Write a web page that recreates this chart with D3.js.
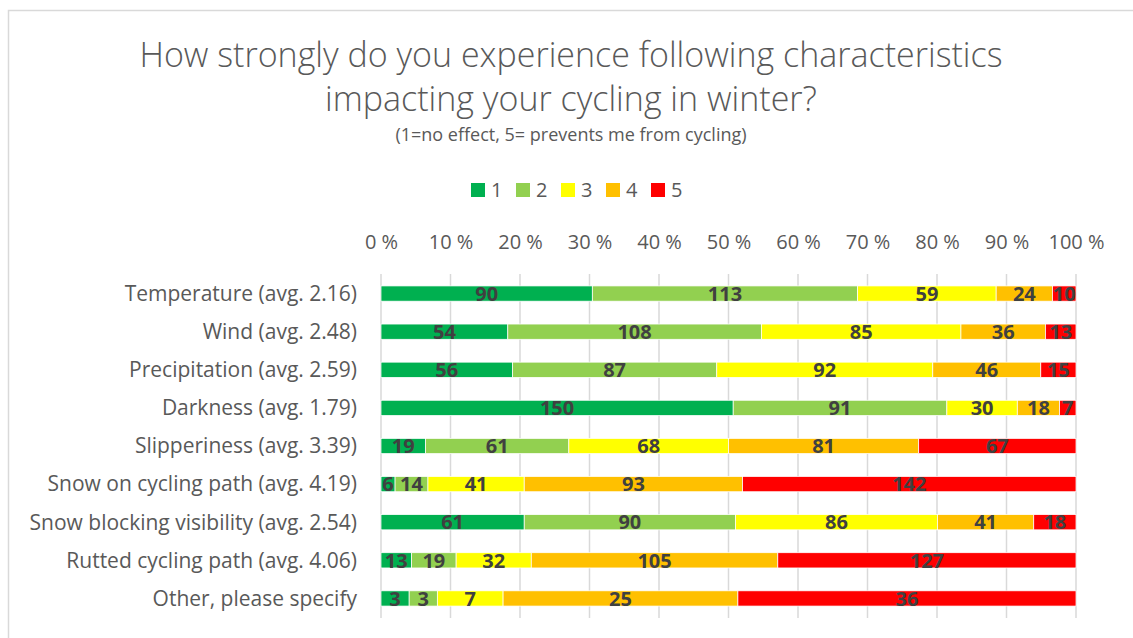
<!DOCTYPE html>
<html>
<head>
<meta charset="utf-8">
<script src="https://cdn.jsdelivr.net/npm/d3@7"></script>
<style>
  html, body { margin: 0; padding: 0; background: #fff; }
  svg { display: block; font-family: "Open Sans", "Liberation Sans", sans-serif; }
</style>
</head>
<body>
<svg id="chart" width="1133" height="638"></svg>
<script>
// Survey categories (rows, top to bottom)
const categories = [
  "Temperature (avg. 2.16)",
  "Wind (avg. 2.48)",
  "Precipitation (avg. 2.59)",
  "Darkness (avg. 1.79)",
  "Slipperiness (avg. 3.39)",
  "Snow on cycling path (avg. 4.19)",
  "Snow blocking visibility (avg. 2.54)",
  "Rutted cycling path (avg. 4.06)",
  "Other, please specify"
];

// Rating scale 1..5 and the response counts per rating
const ratings = ["1", "2", "3", "4", "5"];
const rating1 = [90, 54, 56, 150, 19, 6, 61, 13, 3];
const rating2 = [113, 108, 87, 91, 61, 14, 90, 19, 3];
const rating3 = [59, 85, 92, 30, 68, 41, 86, 32, 7];
const rating4 = [24, 36, 46, 18, 81, 93, 41, 105, 25];
const rating5 = [10, 13, 15, 7, 67, 142, 18, 127, 36];
const ratingColors = ["#00B050", "#92D050", "#FFFF00", "#FFC000", "#FF0000"];

// Axis ticks (share of responses)
const tickValues = [0, 0.1, 0.2, 0.3, 0.4, 0.5, 0.6, 0.7, 0.8, 0.9, 1];

const titleLines = [
  "How strongly do you experience following characteristics",
  "impacting your cycling in winter?"
];
const subtitle = "(1=no effect, 5= prevents me from cycling)";

// Build row records and the normalised stack
const seriesValues = [rating1, rating2, rating3, rating4, rating5];
const rows = categories.map((c, i) => {
  const r = { category: c };
  ratings.forEach((k, j) => { r[k] = seriesValues[j][i]; });
  return r;
});

const stack = d3.stack().keys(ratings).offset(d3.stackOffsetExpand);
const layers = stack(rows);

const svg = d3.select("#chart");
const W = 1133, H = 638;
const textColor = "#595959";

// Chart area frame
svg.append("rect")
  .attr("x", 8.5).attr("y", 10.5)
  .attr("width", W + 20).attr("height", H + 20)
  .attr("fill", "#fff")
  .attr("stroke", "#D9D9D9").attr("stroke-width", 1.5);

// Title
const cx = 571;
svg.append("text")
  .attr("x", cx).attr("y", 67)
  .attr("text-anchor", "middle")
  .attr("fill", textColor)
  .style("font-size", "34px").style("font-weight", 300)
  .text(titleLines[0]);
svg.append("text")
  .attr("x", cx).attr("y", 111)
  .attr("text-anchor", "middle")
  .attr("fill", textColor)
  .style("font-size", "34px").style("font-weight", 300)
  .text(titleLines[1]);
svg.append("text")
  .attr("x", cx).attr("y", 141)
  .attr("text-anchor", "middle")
  .attr("fill", textColor)
  .style("font-size", "18px")
  .text(subtitle);

// Scales
const x = d3.scaleLinear().domain([0, 1]).range([381, 1076]);
const y = d3.scaleBand().domain(categories).range([274.5, 617.5])
  .paddingInner(0.6).paddingOuter(0.3);

// Legend
const legendStart = 471, legendStep = 45;
const legend = svg.append("g");
ratings.forEach((k, i) => {
  const g = legend.append("g").attr("transform", `translate(${legendStart + i * legendStep},183)`);
  g.append("rect").attr("width", 14).attr("height", 14).attr("fill", ratingColors[i]);
  g.append("text").attr("x", 20).attr("y", 14)
    .attr("fill", textColor).style("font-size", "20px").text(k);
});

// Vertical gridlines
svg.append("g").selectAll("line")
  .data(tickValues)
  .join("line")
  .attr("x1", d => x(d)).attr("x2", d => x(d))
  .attr("y1", 274).attr("y2", 618)
  .attr("stroke", "#D9D9D9").attr("stroke-width", 1.5);

// Top percentage axis
const xAxis = d3.axisTop(x)
  .tickValues(tickValues)
  .tickFormat(d => Math.round(d * 100) + " %")
  .tickSize(0).tickPadding(0);
const axG = svg.append("g").attr("transform", "translate(0,249)").call(xAxis);
axG.select(".domain").remove();
axG.selectAll("text")
  .attr("fill", textColor)
  .style("font-family", "'Open Sans', 'Liberation Sans', sans-serif")
  .style("font-size", "20px");

// Category axis on the left
const yAxis = d3.axisLeft(y).tickSize(0).tickPadding(0);
const ayG = svg.append("g").attr("transform", "translate(357,0)").call(yAxis);
ayG.select(".domain").remove();
ayG.selectAll("text")
  .attr("fill", textColor)
  .attr("dy", "0.35em")
  .style("font-family", "'Open Sans', 'Liberation Sans', sans-serif")
  .style("font-size", "21px");

// Stacked bars
const layerG = svg.append("g").selectAll("g")
  .data(layers)
  .join("g")
  .attr("fill", (d, i) => ratingColors[i]);

layerG.selectAll("rect")
  .data(d => d.map(s => ({ s, key: d.key })))
  .join("rect")
  .attr("x", d => x(d.s[0]))
  .attr("width", d => x(d.s[1]) - x(d.s[0]))
  .attr("y", d => y(d.s.data.category))
  .attr("height", y.bandwidth())
  .attr("stroke", "#fff").attr("stroke-width", 0.75);

// Count labels centred in each segment
const labelG = svg.append("g");
layers.forEach(layer => {
  layer.forEach(s => {
    labelG.append("text")
      .attr("x", x((s[0] + s[1]) / 2))
      .attr("y", y(s.data.category) + y.bandwidth() / 2)
      .attr("dy", "0.36em")
      .attr("text-anchor", "middle")
      .attr("fill", "#404040")
      .style("font-size", "20px").style("font-weight", 700)
      .text(s.data[layer.key]);
  });
});
</script>
</body>
</html>
